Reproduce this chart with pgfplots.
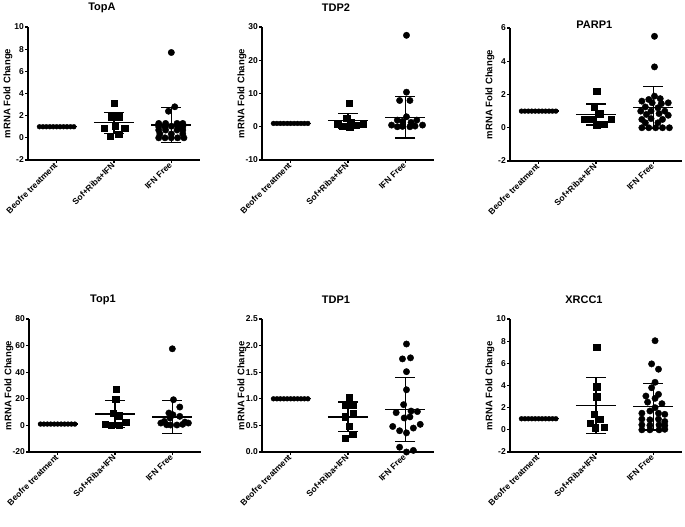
\documentclass[border=0pt]{standalone}
\usepackage{fontspec}
\setmainfont{Liberation Sans}
\usepackage{pgfplots}
\pgfplotsset{compat=1.18}

\pgfplotsset{
  gp/.style={
    scale only axis, width=172pt, height=133pt, anchor=north west,
    xmin=0.5, xmax=3.5, xtick={1,2,3},
    xticklabels={Beofre treatment,Sof+Riba+IFN,IFN Free},
    axis lines=left, axis line style={-, line width=1.3pt},
    tick align=outside, major tick length=3pt,
    every tick/.style={black, line width=1.3pt},
    clip=false,
    /pgf/number format/assume math mode=true,
    tick label style={font=\bfseries\fontsize{8.5}{9}\selectfont},
    yticklabel style={inner sep=1pt},
    xticklabel style={rotate=45, anchor=east, inner sep=1pt},
    ylabel={mRNA Fold Change},
    ylabel style={font=\bfseries\fontsize{9.5}{11}\selectfont,
      at={(axis description cs:-0.116,0.5)}, anchor=center},
    every axis title shift=0pt,
    title style={font=\bfseries\fontsize{11}{12}\selectfont, anchor=base,
      at={(axis description cs:0.43,1)}, yshift=16pt},
  },
  g1/.style={only marks, mark=*, mark size=2.4pt, black},
  g2/.style={only marks, mark=square*, mark size=3.2pt, black},
  g3/.style={only marks, mark=*, mark size=3.2pt, black},
  mean/.style={black, line width=1.3pt, mark=none},
  sd/.style={black, mark=none, line width=1.3pt,
    error bars/.cd, y dir=both, y explicit, error mark=|,
    error mark options={black, line width=1.3pt, mark size=10pt},
    error bar style={black, line width=1.3pt}},
}

\begin{document}
\begin{tikzpicture}
\path[use as bounding box] (0pt,0pt) rectangle (685pt,-527pt);

% ---------- TopA ----------
\begin{axis}[gp, at={(28pt,-27pt)}, title={TopA}, ymin=-2, ymax=10, ytick={-2,0,...,10}]
\addplot[g1] coordinates {(0.70,1) (0.76,1) (0.82,1) (0.88,1) (0.94,1) (1.00,1) (1.06,1) (1.12,1) (1.18,1) (1.24,1) (1.30,1)};
\addplot[mean] coordinates {(0.65,1) (1.35,1)};
\addplot[g2] coordinates {(2.00,3.1) (1.96,1.9) (2.09,1.9) (1.83,0.85) (2.19,0.85) (2.02,1.05) (1.93,0.15) (2.08,0.35)};
\addplot[mean] coordinates {(1.65,1.36) (2.35,1.36)};
\addplot[sd] coordinates {(2,1.36) +- (0,0.95)};
\addplot[g3] coordinates {(3.00,7.7) (3.06,2.8) (2.95,2.4)
  (2.78,1.3) (2.90,1.3) (3.10,1.3) (3.20,1.3)
  (2.78,1.0) (2.89,1.0) (3.00,1.05) (3.11,1.0) (3.20,1.0)
  (2.78,0.7) (2.90,0.7) (3.10,0.7) (3.20,0.7)
  (2.80,0.35) (3.00,0.35) (3.20,0.35)
  (2.78,0.0) (2.89,0.0) (3.00,0.0) (3.11,0.0) (3.22,0.0)};
\addplot[mean] coordinates {(2.65,1.15) (3.35,1.15)};
\addplot[sd] coordinates {(3,1.15) +- (0,1.6)};
\end{axis}

% ---------- TDP2 ----------
\begin{axis}[gp, at={(262pt,-27pt)}, title={TDP2}, ymin=-10, ymax=30, ytick={-10,0,...,30}]
\addplot[g1] coordinates {(0.70,1) (0.76,1) (0.82,1) (0.88,1) (0.94,1) (1.00,1) (1.06,1) (1.12,1) (1.18,1) (1.24,1) (1.30,1)};
\addplot[mean] coordinates {(0.65,1) (1.35,1)};
\addplot[g2] coordinates {(2.02,7.1) (1.98,2.5) (2.05,1.2) (1.82,0.7) (2.26,0.7) (1.90,0.2) (2.03,0.0) (2.14,0.4)};
\addplot[mean] coordinates {(1.65,1.8) (2.35,1.8)};
\addplot[sd] coordinates {(2,1.8) +- (0,2.2)};
\addplot[g3] coordinates {(3.02,27.5) (3.02,10.4) (2.90,7.9) (3.08,7.9) (3.02,3.0)
  (2.86,2.0) (3.20,2.0) (2.95,1.6) (3.10,1.3) (2.76,0.5) (3.30,0.5)
  (2.86,0.0) (2.95,0.1) (3.08,0.0) (3.17,0.2)};
\addplot[mean] coordinates {(2.65,2.8) (3.35,2.8)};
\addplot[sd] coordinates {(3,2.8) +- (0,6.2)};
\end{axis}

% ---------- PARP1 ----------
\begin{axis}[gp, at={(510pt,-28pt)}, title={PARP1}, title style={yshift=-16pt, at={(axis description cs:0.49,1)}},
  ymin=-2, ymax=6, ytick={-2,0,...,6}]
\addplot[g1] coordinates {(0.70,1) (0.76,1) (0.82,1) (0.88,1) (0.94,1) (1.00,1) (1.06,1) (1.12,1) (1.18,1) (1.24,1) (1.30,1)};
\addplot[mean] coordinates {(0.65,1) (1.35,1)};
\addplot[g2] coordinates {(2.01,2.2) (1.97,1.26) (2.07,0.85) (1.79,0.5) (1.92,0.5) (2.26,0.5) (2.01,0.18) (2.14,0.22)};
\addplot[mean] coordinates {(1.65,0.79) (2.35,0.79)};
\addplot[sd] coordinates {(2,0.79) +- (0,0.63)};
\addplot[g3] coordinates {(3.02,5.5) (3.02,3.66)
  (3.02,1.9) (2.92,1.7) (3.12,1.75)
  (2.80,1.6) (2.98,1.5) (3.14,1.45) (3.26,1.5)
  (2.86,1.25) (3.08,1.2)
  (2.78,1.0) (2.96,1.0) (3.20,1.0)
  (2.88,0.8) (3.10,0.85) (3.26,0.75)
  (2.80,0.5) (2.96,0.55) (3.16,0.5)
  (2.86,0.3) (3.08,0.3)
  (2.80,0.0) (2.92,0.0) (3.04,0.0) (3.16,0.0) (3.28,0.0)};
\addplot[mean] coordinates {(2.65,1.22) (3.35,1.22)};
\addplot[sd] coordinates {(3,1.22) +- (0,1.26)};
\end{axis}

% ---------- Top1 ----------
\begin{axis}[gp, at={(29pt,-319pt)}, title={Top1}, title style={yshift=1pt}, ymin=-20, ymax=80, ytick={-20,0,...,80}]
\addplot[g1] coordinates {(0.70,1) (0.76,1) (0.82,1) (0.88,1) (0.94,1) (1.00,1) (1.06,1) (1.12,1) (1.18,1) (1.24,1) (1.30,1)};
\addplot[mean] coordinates {(0.65,1) (1.35,1)};
\addplot[g2] coordinates {(2.02,27.3) (2.01,19.8) (1.97,9.3) (2.07,7.3) (1.83,0.75) (1.93,0.0) (2.07,0.0) (2.19,2.3)};
\addplot[mean] coordinates {(1.65,8.5) (2.35,8.5)};
\addplot[sd] coordinates {(2,8.5) +- (0,10)};
\addplot[g3] coordinates {(3.00,57.6) (3.02,19.3) (3.13,13.8) (2.94,9.3) (3.01,8.0) (3.13,6.8) (2.96,5.5)
  (2.80,1.75) (3.28,1.75) (2.90,0.5) (2.97,0.3) (3.08,0.3) (3.18,0.8) (2.86,3.0) (3.22,2.5)};
\addplot[mean] coordinates {(2.65,6.3) (3.35,6.3)};
\addplot[sd] coordinates {(3,6.3) +- (0,12.4)};
\end{axis}

% ---------- TDP1 ----------
\begin{axis}[gp, at={(262pt,-319pt)}, title={TDP1}, ymin=0, ymax=2.5, ytick={0,0.5,...,2.5},
  yticklabel style={/pgf/number format/.cd, fixed, fixed zerofill, precision=1}]
\addplot[g1] coordinates {(0.70,1) (0.76,1) (0.82,1) (0.88,1) (0.94,1) (1.00,1) (1.06,1) (1.12,1) (1.18,1) (1.24,1) (1.30,1)};
\addplot[mean] coordinates {(0.65,1) (1.35,1)};
\addplot[g2] coordinates {(2.02,1.03) (1.95,0.89) (2.08,0.88) (2.09,0.73) (1.95,0.66) (2.02,0.49) (2.08,0.34) (1.95,0.26)};
\addplot[mean] coordinates {(1.65,0.66) (2.35,0.66)};
\addplot[sd] coordinates {(2,0.66) +- (0,0.28)};
\addplot[g3] coordinates {(3.02,2.03) (2.95,1.75) (3.09,1.77) (3.02,1.51) (3.02,1.17) (2.97,0.89)
  (2.84,0.74) (3.10,0.77) (3.21,0.76) (2.98,0.64) (3.08,0.66) (2.78,0.48) (3.26,0.52)
  (2.90,0.40) (3.14,0.45) (3.02,0.36) (2.90,0.09) (3.02,0.0) (3.14,0.03)};
\addplot[mean] coordinates {(2.65,0.80) (3.35,0.80)};
\addplot[sd] coordinates {(3,0.80) +- (0,0.6)};
\end{axis}

% ---------- XRCC1 ----------
\begin{axis}[gp, at={(510pt,-319pt)}, title={XRCC1}, ymin=-2, ymax=10, ytick={-2,0,...,10}]
\addplot[g1] coordinates {(0.70,1) (0.76,1) (0.82,1) (0.88,1) (0.94,1) (1.00,1) (1.06,1) (1.12,1) (1.18,1) (1.24,1) (1.30,1)};
\addplot[mean] coordinates {(0.65,1) (1.35,1)};
\addplot[g2] coordinates {(2.01,7.46) (2.01,3.9) (2.01,3.0) (1.97,1.42) (2.07,0.97) (1.90,0.6) (2.14,0.24) (1.99,0.2)};
\addplot[mean] coordinates {(1.65,2.22) (2.35,2.22)};
\addplot[sd] coordinates {(2,2.22) +- (0,2.52)};
\addplot[g3] coordinates {(3.03,8.04) (2.97,5.95) (3.09,5.47) (3.03,4.29) (2.97,3.8) (3.09,3.2) (2.87,3.05)
  (3.03,2.84) (3.15,2.36) (2.90,2.5) (3.03,2.0) (2.80,1.5) (2.94,1.7) (3.09,1.5) (3.20,1.4)
  (2.80,0.97) (2.94,0.9) (3.09,0.97) (3.20,0.75) (2.80,0.45) (2.94,0.4) (3.10,0.45) (3.20,0.4)
  (2.80,0.0) (2.94,0.0) (3.10,0.0) (3.20,0.05)};
\addplot[mean] coordinates {(2.65,2.08) (3.35,2.08)};
\addplot[sd] coordinates {(3,2.08) +- (0,2.1)};
\end{axis}
\end{tikzpicture}
\end{document}
